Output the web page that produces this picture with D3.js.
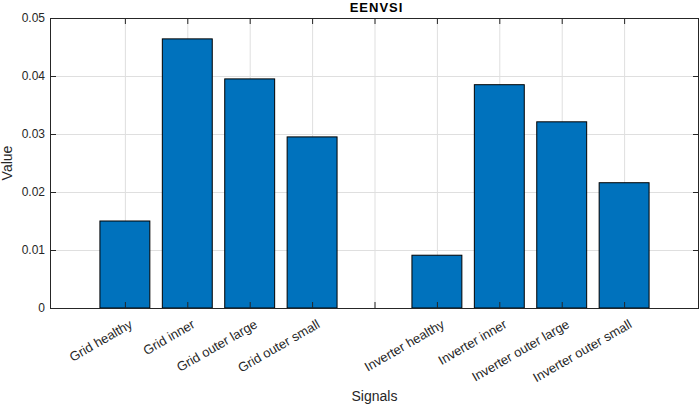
<!DOCTYPE html>
<html>
<head>
<meta charset="utf-8">
<script src="https://cdn.jsdelivr.net/npm/d3@7"></script>
<style>
  body { margin: 0; background: #fff; }
  svg { display: block; font-family: "Liberation Sans", Arial, Helvetica, sans-serif; }
</style>
</head>
<body>
<div id="chart"></div>
<script>
// data
var categories = ['Grid healthy', 'Grid inner', 'Grid outer large', 'Grid outer small', '',
    'Inverter healthy', 'Inverter inner', 'Inverter outer large', 'Inverter outer small'];
var values = [0.0150, 0.0464, 0.0395, 0.0295, null, 0.0091, 0.0385, 0.0321, 0.0216];
var yTicks = [0, 0.01, 0.02, 0.03, 0.04, 0.05];

var W = 700, H = 407;
var pad = { left: 50, right: 1, top: 18, bottom: 99 };
var w = W - pad.left - pad.right, h = H - pad.top - pad.bottom;
var axisColor = '#262626', gridColor = '#dfdfdf', barColor = '#0072BD';

var svg = d3.select('#chart').append('svg').attr('width', W).attr('height', H);
var g = svg.append('g').attr('transform', 'translate(' + pad.left + ',' + pad.top + ')');

var x = d3.scaleLinear().domain([-0.2, 10.2]).range([0, w]);
var y = d3.scaleLinear().domain([0, 0.05]).range([h, 0]);
var pos = categories.map(function (d, i) { return i + 1; });
var barW = x(0.8) - x(0);

// grid
g.append('g').selectAll('line').data(pos).enter().append('line')
    .attr('x1', function (d) { return x(d) + 0.5; }).attr('x2', function (d) { return x(d) + 0.5; })
    .attr('y1', 0).attr('y2', h).attr('stroke', gridColor);
g.append('g').selectAll('line').data(yTicks).enter().append('line')
    .attr('x1', 0).attr('x2', w)
    .attr('y1', function (d) { return Math.round(y(d)) + 0.5; }).attr('y2', function (d) { return Math.round(y(d)) + 0.5; })
    .attr('stroke', gridColor);

// bars
var barData = pos.map(function (p, i) { return { p: p, v: values[i] }; }).filter(function (d) { return d.v !== null; });
g.append('g').selectAll('rect').data(barData).enter().append('rect')
    .attr('x', function (d) { return x(d.p) - barW / 2; })
    .attr('width', barW)
    .attr('y', function (d) { return y(d.v); })
    .attr('height', function (d) { return h - y(d.v); })
    .attr('fill', barColor).attr('stroke', '#000').attr('stroke-width', 1);

// inward ticks on all four sides
var tl = 6;
var ticks = g.append('g').attr('stroke', axisColor);
pos.forEach(function (p) {
    var px = x(p) + 0.5;
    ticks.append('line').attr('x1', px).attr('x2', px).attr('y1', h).attr('y2', h - tl);
    ticks.append('line').attr('x1', px).attr('x2', px).attr('y1', 0).attr('y2', tl);
});
yTicks.forEach(function (t) {
    var py = Math.round(y(t)) + 0.5;
    ticks.append('line').attr('x1', 0).attr('x2', tl).attr('y1', py).attr('y2', py);
    ticks.append('line').attr('x1', w).attr('x2', w - tl).attr('y1', py).attr('y2', py);
});

// box
g.append('rect').attr('x', 0.5).attr('y', 0.5).attr('width', w - 1).attr('height', h)
    .attr('fill', 'none').attr('stroke', axisColor);

// y tick labels
g.append('g').selectAll('text').data(yTicks).enter().append('text')
    .attr('x', -5).attr('y', function (d) { return y(d); })
    .attr('dy', '0.35em').attr('text-anchor', 'end')
    .attr('font-size', 12).attr('fill', axisColor)
    .text(function (d) { return d === 0 ? '0' : d3.format('.2f')(d); });

// x tick labels, rotated
g.append('g').selectAll('text').data(pos).enter().append('text')
    .attr('transform', function (d) { return 'translate(' + (x(d) + 4) + ',' + (h + 11) + ') rotate(-30)'; })
    .attr('text-anchor', 'end').attr('dy', '0.7em')
    .attr('font-size', 13).attr('fill', axisColor)
    .text(function (d, i) { return categories[i]; });

// titles
svg.append('text').attr('x', pad.left + w / 2 + 2).attr('y', 11.5)
    .attr('text-anchor', 'middle').attr('font-size', 13).attr('font-weight', 'bold')
    .attr('letter-spacing', 1).attr('fill', '#000').text('EENVSI');
svg.append('text').attr('x', pad.left + w / 2).attr('y', 401)
    .attr('text-anchor', 'middle').attr('font-size', 14).attr('fill', axisColor).text('Signals');
svg.append('text').attr('transform', 'translate(12,' + (pad.top + h / 2) + ') rotate(-90)')
    .attr('text-anchor', 'middle').attr('font-size', 14).attr('fill', axisColor).text('Value');
</script>
</body>
</html>
